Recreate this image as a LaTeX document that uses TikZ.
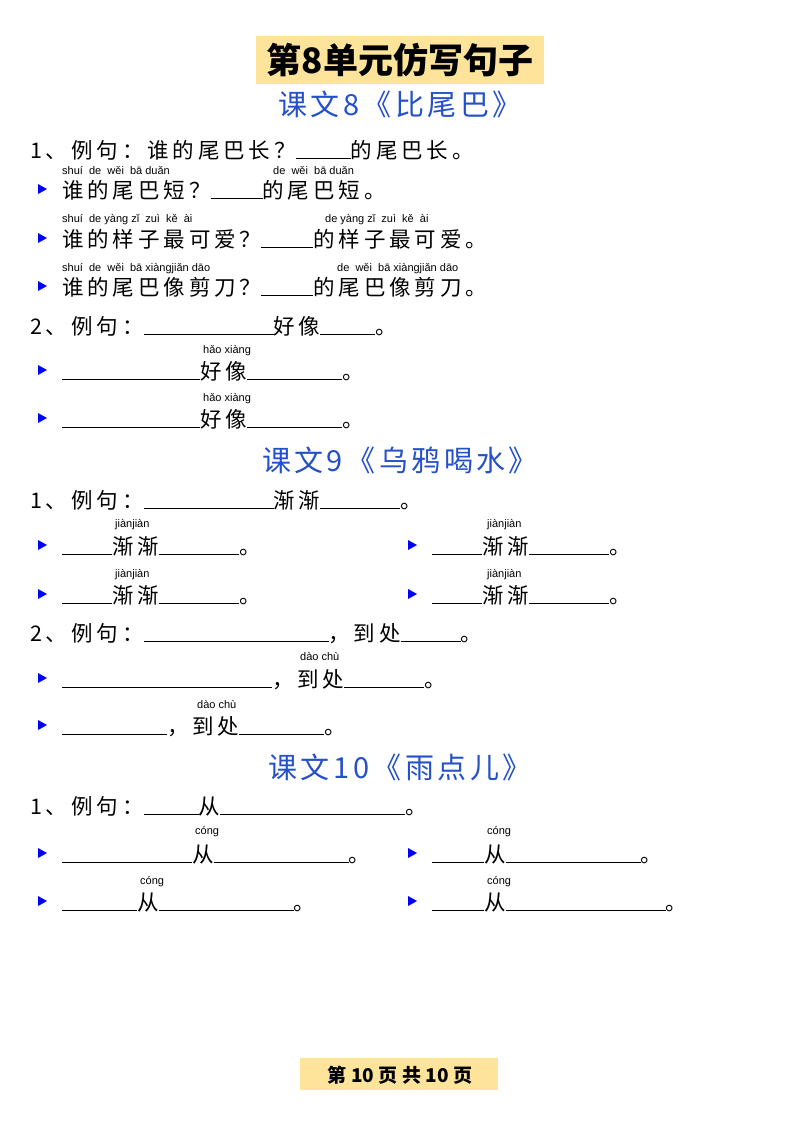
\documentclass[tikz,border=0pt]{standalone}
\usepackage{fontspec}
\setmainfont{Noto Sans CJK SC}
\newfontfamily\pyfont{Liberation Sans}
\newfontfamily\rowfont[LetterSpace=18]{Noto Sans CJK SC}
\newfontfamily\secfont[LetterSpace=12]{Noto Sans CJK SC}
\definecolor{ttl}{HTML}{FDE49A}
\definecolor{blu}{HTML}{2450C8}
\newcommand{\bl}[1]{\rule[-1pt]{#1pt}{0.8pt}}
\tikzset{
  row/.style={anchor=base west,inner sep=0pt,font=\rowfont\fontsize{21.5}{21.5}\selectfont},
  py/.style={anchor=base west,inner sep=0pt,font=\pyfont\fontsize{11}{11}\selectfont},
  sec/.style={anchor=base,inner sep=0pt,text=blu,font=\secfont\fontsize{29}{29}\selectfont}
}
\newcommand{\tri}[2]{\fill[blue] (#1,#2-14) -- (#1+9,#2-9) -- (#1,#2-4) -- cycle;}
\begin{document}
\begin{tikzpicture}[x=1pt,y=-1pt]
\useasboundingbox (0,0) rectangle (800,1132);
% title
\fill[ttl] (256,36) rectangle (544,84);
\node[anchor=base,inner sep=0pt,font=\bfseries\fontsize{35}{35}\selectfont] (title) at (400,74) {第8单元仿写句子};
\node[sec] (s8) at (400,115) {课文8《比尾巴》};
% section 8
\node[row] (a1) at (30,158) {1、例句：谁的尾巴长？\bl{55}的尾巴长。};
\tri{38}{198}
\node[py] (p1a) at (62,174) {shuí\ \ de\ \ wěi\ \ bā\ duǎn};
\node[py] (p1b) at (273,174) {de\ \ wěi\ \ bā\ duǎn};
\node[row] (a2) at (62,198) {谁的尾巴短？\bl{52}的尾巴短。};
\tri{38}{247}
\node[py] (p2a) at (62,222) {shuí\ \ de\ yàng\ zǐ\ \ zuì\ \ kě\ \ ài};
\node[py] (p2b) at (325,222) {de\ yàng\ zǐ\ \ zuì\ \ kě\ \ ài};
\node[row] (a3) at (62,247) {谁的样子最可爱？\bl{52}的样子最可爱。};
\tri{38}{295}
\node[py] (p3a) at (62,271) {shuí\ \ de\ \ wěi\ \ bā\ xiàngjiǎn dāo};
\node[py] (p3b) at (337,271) {de\ \ wěi\ \ bā\ xiàngjiǎn dāo};
\node[row] (a4) at (62,295) {谁的尾巴像剪刀？\bl{52}的尾巴像剪刀。};
\node[row] (b1) at (30,334) {2、例句：\bl{130}好像\bl{55}。};
\tri{38}{379}
\node[py] (p4) at (203,353) {hǎo xiàng};
\node[row] (b2) at (62,379) {\bl{138}好像\bl{95}。};
\tri{38}{427}
\node[py] (p5) at (203,401) {hǎo xiàng};
\node[row] (b3) at (62,427) {\bl{138}好像\bl{95}。};
% section 9
\node[sec] (s9) at (400,471) {课文9《乌鸦喝水》};
\node[row] (c1) at (30,508) {1、例句：\bl{130}渐渐\bl{80}。};
\tri{38}{554}
\node[py] (p6) at (115,527) {jiànjiàn};
\node[row] (c2) at (62,554) {\bl{50}渐渐\bl{80}。};
\tri{408}{554}
\node[py] (p7) at (487,527) {jiànjiàn};
\node[row] (c3) at (432,554) {\bl{50}渐渐\bl{80}。};
\tri{38}{603}
\node[py] (p8) at (115,577) {jiànjiàn};
\node[row] (c4) at (62,603) {\bl{50}渐渐\bl{80}。};
\tri{408}{603}
\node[py] (p9) at (487,577) {jiànjiàn};
\node[row] (c5) at (432,603) {\bl{50}渐渐\bl{80}。};
\node[row] (d1) at (30,641) {2、例句：\bl{185}，到处\bl{60}。};
\tri{38}{687}
\node[py] (p10) at (300,660) {dào chù};
\node[row] (d2) at (62,687) {\bl{210}，到处\bl{80}。};
\tri{38}{734}
\node[py] (p11) at (197,708) {dào chù};
\node[row] (d3) at (62,734) {\bl{105}，到处\bl{85}。};
% section 10
\node[sec] (s10) at (400,778) {课文10《雨点儿》};
\node[row] (e1) at (30,814) {1、例句：\bl{55}从\bl{185}。};
\tri{38}{862}
\node[py] (p12) at (195,834) {cóng};
\node[row] (e2) at (62,862) {\bl{130}从\bl{135}。};
\tri{408}{862}
\node[py] (p13) at (487,834) {cóng};
\node[row] (e3) at (432,862) {\bl{52}从\bl{135}。};
\tri{38}{910}
\node[py] (p14) at (140,884) {cóng};
\node[row] (e4) at (62,910) {\bl{75}从\bl{135}。};
\tri{408}{910}
\node[py] (p15) at (487,884) {cóng};
\node[row] (e5) at (432,910) {\bl{52}从\bl{160}。};
% footer
\fill[ttl] (300,1058) rectangle (498,1090);
\node[anchor=base,inner sep=0pt,font=\bfseries\fontsize{19}{19}\selectfont] (foot) at (400,1082) {第 10 页 共 10 页};
\end{tikzpicture}
\end{document}
